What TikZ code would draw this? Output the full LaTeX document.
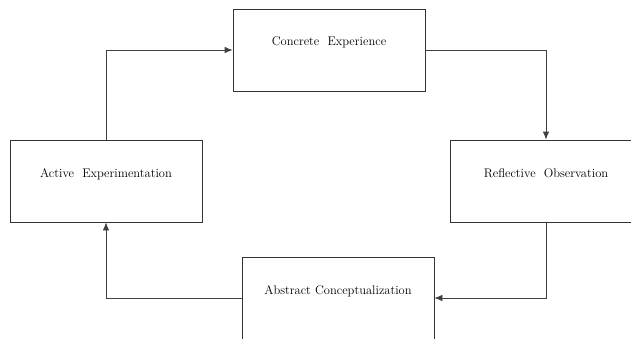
\documentclass[tikz,border=0pt]{standalone}
\usepackage{tikz}
\usetikzlibrary{arrows, arrows.meta, positioning, shapes}

\begin{document}
\begin{tikzpicture}[x=1pt, y=1pt,
  box/.style={draw=black!80, line width=0.8pt, rectangle, minimum width=192pt,
    minimum height=82pt, text height=9pt, text depth=17pt,
    font=\fontsize{12.5}{14}\selectfont},
  flow/.style={-{Latex[length=8pt, width=6.5pt]}, draw=black!75, line width=0.8pt}]

\clip (0, 0) rectangle (631, 338);

% nodes
\node[box] (CE) at (329, 288) {Concrete\ \ Experience};
\node[box] (RO) at (546, 157) {Reflective\ \ Observation};
\node[box] (AC) at (338, 40) {Abstract Conceptualization};
\node[box] (AE) at (106, 157) {Active\ \ Experimentation};

% arrows
\draw [flow] (AE.north) |- (CE.west);
\draw [flow] (CE.east) -| (RO.north);
\draw [flow] (RO.south) |- (AC.east);
\draw [flow] (AC.west) -| (AE.south);

\end{tikzpicture}
\end{document}
